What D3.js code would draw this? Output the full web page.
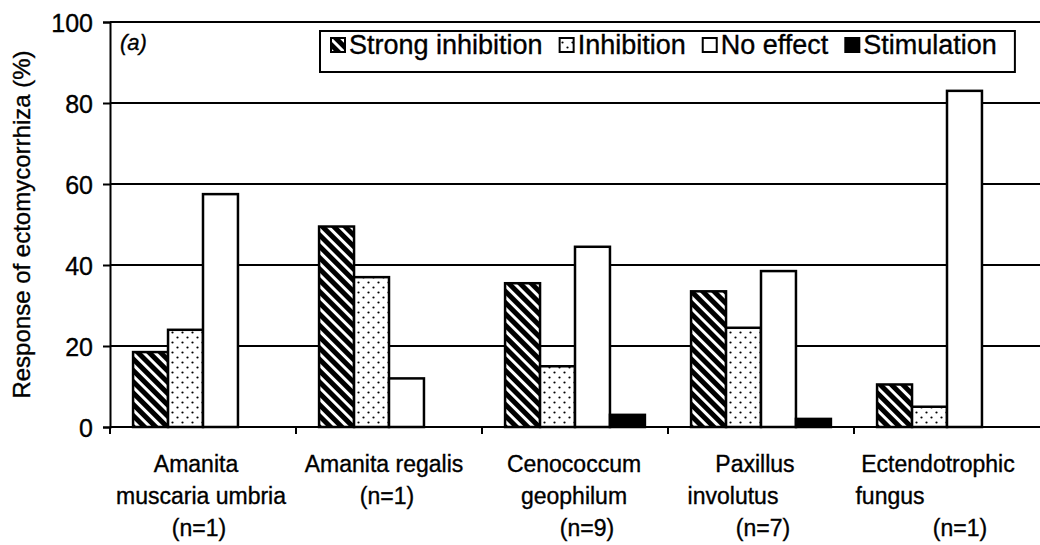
<!DOCTYPE html>
<html>
<head>
<meta charset="utf-8">
<script src="https://cdn.jsdelivr.net/npm/d3@7"></script>
<style>
  body { margin: 0; background: #fff; }
  text { font-family: "Liberation Sans", Arial, sans-serif; fill: #000; stroke: #000; stroke-width: 0.35px; }
</style>
</head>
<body>
<div id="chart"></div>
<script>
// data
const categories = ['Amanita muscaria umbria', 'Amanita regalis', 'Cenococcum geophilum', 'Paxillus involutus', 'Ectendotrophic fungus'];
const labelLines = [
  ['Amanita', 'muscaria umbria', '(n=1)'],
  ['Amanita regalis', '(n=1)'],
  ['Cenococcum', 'geophilum', '(n=9)'],
  ['Paxillus', 'involutus', '(n=7)'],
  ['Ectendotrophic', 'fungus', '(n=1)']
];
const seriesNames = ['Strong inhibition', 'Inhibition', 'No effect', 'Stimulation'];
const strongInhibition = [18.5, 49.5, 35.5, 33.5, 10.5];
const inhibition = [24, 37, 15, 24.5, 5];
const noEffect = [57.5, 12, 44.5, 38.5, 83];
const stimulation = [0, 0, 3, 2, 0];
const yTicks = [0, 20, 40, 60, 80, 100];

// label lines are not all centred in the original (space padded)
const labelShift = [
  [-7, -2, -4],
  [-5, -2],
  [-1, -1, 12],
  [-6, -28, 2],
  [-9, -57, 13]
];

const width = 1040, height = 545;
const margin = {left: 110, right: 0, top: 22, bottom: 118};

const values = [strongInhibition, inhibition, noEffect, stimulation];
const fills = ['url(#hatch)', 'url(#dots)', '#fff', '#000'];

const svg = d3.select('#chart')
  .append('svg')
  .attr('width', width)
  .attr('height', height);

// fill patterns
const defs = svg.append('defs');
const hatch = defs.append('pattern')
  .attr('id', 'hatch')
  .attr('patternUnits', 'userSpaceOnUse')
  .attr('width', 8).attr('height', 8)
  .attr('patternTransform', 'rotate(-45)');
hatch.append('rect').attr('width', 8).attr('height', 8).attr('fill', '#fff');
hatch.append('rect').attr('width', 5).attr('height', 8).attr('fill', '#000');

const dots = defs.append('pattern')
  .attr('id', 'dots')
  .attr('patternUnits', 'userSpaceOnUse')
  .attr('width', 10).attr('height', 10);
dots.append('rect').attr('width', 10).attr('height', 10).attr('fill', '#fff');
dots.append('circle').attr('cx', 2.5).attr('cy', 2.5).attr('r', 1.1).attr('fill', '#000');
dots.append('circle').attr('cx', 7.5).attr('cy', 7.5).attr('r', 1.1).attr('fill', '#000');

const x0 = d3.scaleBand()
  .domain(categories)
  .range([margin.left, width - margin.right]);

const x1 = d3.scaleBand()
  .domain(seriesNames)
  .range([0, x0.bandwidth()])
  .paddingOuter(0.66);

const y = d3.scaleLinear()
  .domain([0, 100])
  .range([height - margin.bottom, margin.top]);

// gridlines
svg.append('g')
  .selectAll('line')
  .data(yTicks.filter(d => d > 0))
  .enter()
  .append('line')
  .attr('x1', margin.left)
  .attr('x2', width - margin.right)
  .attr('y1', d => y(d))
  .attr('y2', d => y(d))
  .attr('stroke', '#000')
  .attr('stroke-width', 2);

// bars
const groups = svg.append('g')
  .selectAll('g')
  .data(categories)
  .enter()
  .append('g')
  .attr('transform', d => `translate(${x0(d)},0)`);

groups.selectAll('rect')
  .data((d, i) => seriesNames.map((s, j) => ({s: s, v: values[j][i], j: j})))
  .enter()
  .filter(d => d.v > 0)
  .append('rect')
  .attr('x', d => x1(d.s))
  .attr('width', x1.bandwidth())
  .attr('y', d => y(d.v))
  .attr('height', d => y(0) - y(d.v))
  .attr('fill', d => fills[d.j])
  .attr('stroke', '#000')
  .attr('stroke-width', 2.5);

// y axis
const yAxis = svg.append('g')
  .attr('transform', `translate(${margin.left},0)`)
  .call(d3.axisLeft(y).tickValues(yTicks).tickSize(7).tickPadding(10));
yAxis.select('.domain').attr('stroke-width', 2);
yAxis.selectAll('.tick line').attr('stroke-width', 2);
yAxis.selectAll('.tick text')
  .style('font-size', '25px')
  .attr('dy', '0.36em');

// x axis baseline and boundary ticks
svg.append('line')
  .attr('x1', margin.left).attr('x2', width - margin.right)
  .attr('y1', y(0)).attr('y2', y(0))
  .attr('stroke', '#000').attr('stroke-width', 2);
svg.append('line')
  .attr('x1', margin.left).attr('x2', margin.left)
  .attr('y1', y(0)).attr('y2', y(0) + 7)
  .attr('stroke', '#000').attr('stroke-width', 2);
svg.append('g')
  .selectAll('line')
  .data(categories.slice(1))
  .enter()
  .append('line')
  .attr('x1', d => x0(d)).attr('x2', d => x0(d))
  .attr('y1', y(0)).attr('y2', y(0) + 7)
  .attr('stroke', '#000').attr('stroke-width', 2);

// category labels
categories.forEach((c, i) => {
  const cx = x0(c) + x0.bandwidth() / 2;
  svg.append('text')
    .attr('text-anchor', 'middle')
    .style('font-size', '23px')
    .selectAll('tspan')
    .data(labelLines[i])
    .enter()
    .append('tspan')
    .attr('x', (d, k) => cx + labelShift[i][k])
    .attr('y', (d, k) => 472 + k * 32)
    .text(d => d);
});

// y title
svg.append('text')
  .attr('transform', `translate(30,${(y(0) + y(100)) / 2}) rotate(-90)`)
  .attr('text-anchor', 'middle')
  .style('font-size', '24px')
  .text('Response of ectomycorrhiza (%)');

// panel letter
svg.append('text')
  .attr('x', 120).attr('y', 50)
  .style('font-size', '22px')
  .style('font-style', 'italic')
  .text('(a)');

// legend
const legend = svg.append('g');
const legBox = legend.append('rect')
  .attr('fill', '#fff')
  .attr('stroke', '#000')
  .attr('stroke-width', 2);
let lx = 331;
const ly = 54;
seriesNames.forEach((s, j) => {
  legend.append('rect')
    .attr('x', lx).attr('y', ly - 16)
    .attr('width', 14).attr('height', 14)
    .attr('fill', fills[j])
    .attr('stroke', '#000')
    .attr('stroke-width', 2);
  const t = legend.append('text')
    .attr('x', lx + 18).attr('y', ly)
    .style('font-size', '27px')
    .text(s);
  lx += 18 + t.node().getComputedTextLength() + 17;
});
legBox.attr('x', 320).attr('y', 31)
  .attr('width', lx - 17 + 18 - 320)
  .attr('height', 41);
</script>
</body>
</html>
